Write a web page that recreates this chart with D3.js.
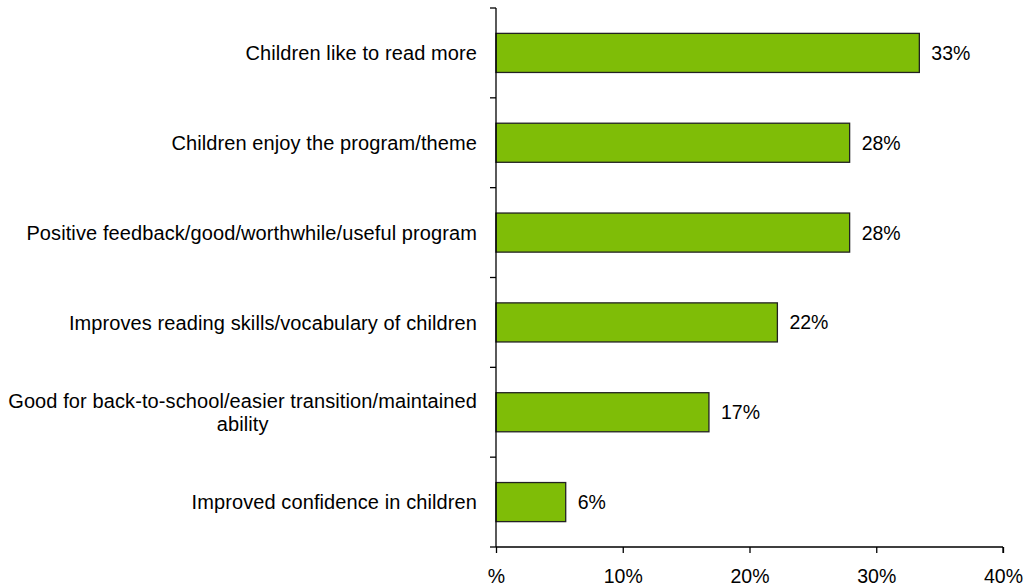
<!DOCTYPE html>
<html><head><meta charset="utf-8">
<script src="https://cdn.jsdelivr.net/npm/d3@7"></script>
<style>body{margin:0;background:#fff}svg{display:block}text{font-family:"Liberation Sans",Arial,sans-serif;fill:#000}</style>
</head><body><svg id="c" width="1030" height="588"></svg>
<script>
const categories = [
  ["Children like to read more"],
  ["Children enjoy the program/theme"],
  ["Positive feedback/good/worthwhile/useful program"],
  ["Improves reading skills/vocabulary of children"],
  ["Good for back-to-school/easier transition/maintained", "ability"],
  ["Improved confidence in children"]
];
const values = [33.4, 27.9, 27.9, 22.2, 16.8, 5.5];
const valueLabels = ["33%", "28%", "28%", "22%", "17%", "6%"];
const xTicks = [0, 10, 20, 30, 40];
const xTickLabels = ["%", "10%", "20%", "30%", "40%"];

const FS = 19.5;
const svg = d3.select("#c");
const m = {left: 496, right: 1003, top: 8, bottom: 547};
const x = d3.scaleLinear().domain([0, 40]).range([m.left, m.right]);
const y = d3.scaleBand().domain(d3.range(categories.length)).range([m.top, m.bottom]).paddingInner(0.565).paddingOuter(0.2825);

// bars
svg.selectAll("rect.bar").data(values).join("rect")
  .attr("x", x(0)).attr("y", (d,i) => y(i))
  .attr("width", d => x(d) - x(0)).attr("height", y.bandwidth())
  .attr("fill", "#7fbd07").attr("stroke", "#222").attr("stroke-width", 1.3);

// value labels
svg.selectAll("text.val").data(values).join("text")
  .attr("x", d => x(d) + 12).attr("y", (d,i) => y(i) + y.bandwidth()/2)
  .attr("dy", "0.36em").attr("font-size", FS)
  .text((d,i) => valueLabels[i]);

// y axis line with separator ticks
const step = (m.bottom - m.top) / categories.length;
svg.append("line").attr("x1", m.left).attr("x2", m.left).attr("y1", m.top).attr("y2", m.bottom)
  .attr("stroke", "#000").attr("stroke-width", 1.3);
d3.range(categories.length + 1).forEach(i => {
  svg.append("line").attr("x1", m.left - 6).attr("x2", m.left)
    .attr("y1", m.top + i*step).attr("y2", m.top + i*step).attr("stroke", "#000").attr("stroke-width", 1.3);
});

// x axis
const xAxis = d3.axisBottom(x).tickValues(xTicks).tickSize(6).tickFormat((d,i) => xTickLabels[i]);
const gx = svg.append("g").attr("transform", `translate(0,${m.bottom})`).call(xAxis);
gx.select(".domain").attr("stroke", "#000").attr("stroke-width", 1.3).attr("d", `M${m.left},0H${m.right}M${m.right},0V6`);
gx.selectAll(".tick line").attr("stroke", "#000").attr("stroke-width", 1.3);
gx.selectAll(".tick text").attr("font-size", FS).attr("y", 36).attr("dy", "0")
  .style("font-family", '"Liberation Sans",Arial,sans-serif').attr("fill", "#000");

// category labels
categories.forEach((lines, i) => {
  const cy = y(i) + y.bandwidth()/2;
  const lh = 23;
  const g = svg.append("g");
  const t = g.append("text").attr("font-size", 20).attr("letter-spacing", 0.1).attr("text-anchor", "middle");
  lines.forEach((ln, j) => {
    t.append("tspan").attr("x", 0).attr("y", cy + (j - (lines.length-1)/2)*lh).attr("dy", "0.36em").text(ln);
  });
  const w = t.node().getBBox().width;
  g.attr("transform", `translate(${477 - w/2},0)`);
});
</script></body></html>
